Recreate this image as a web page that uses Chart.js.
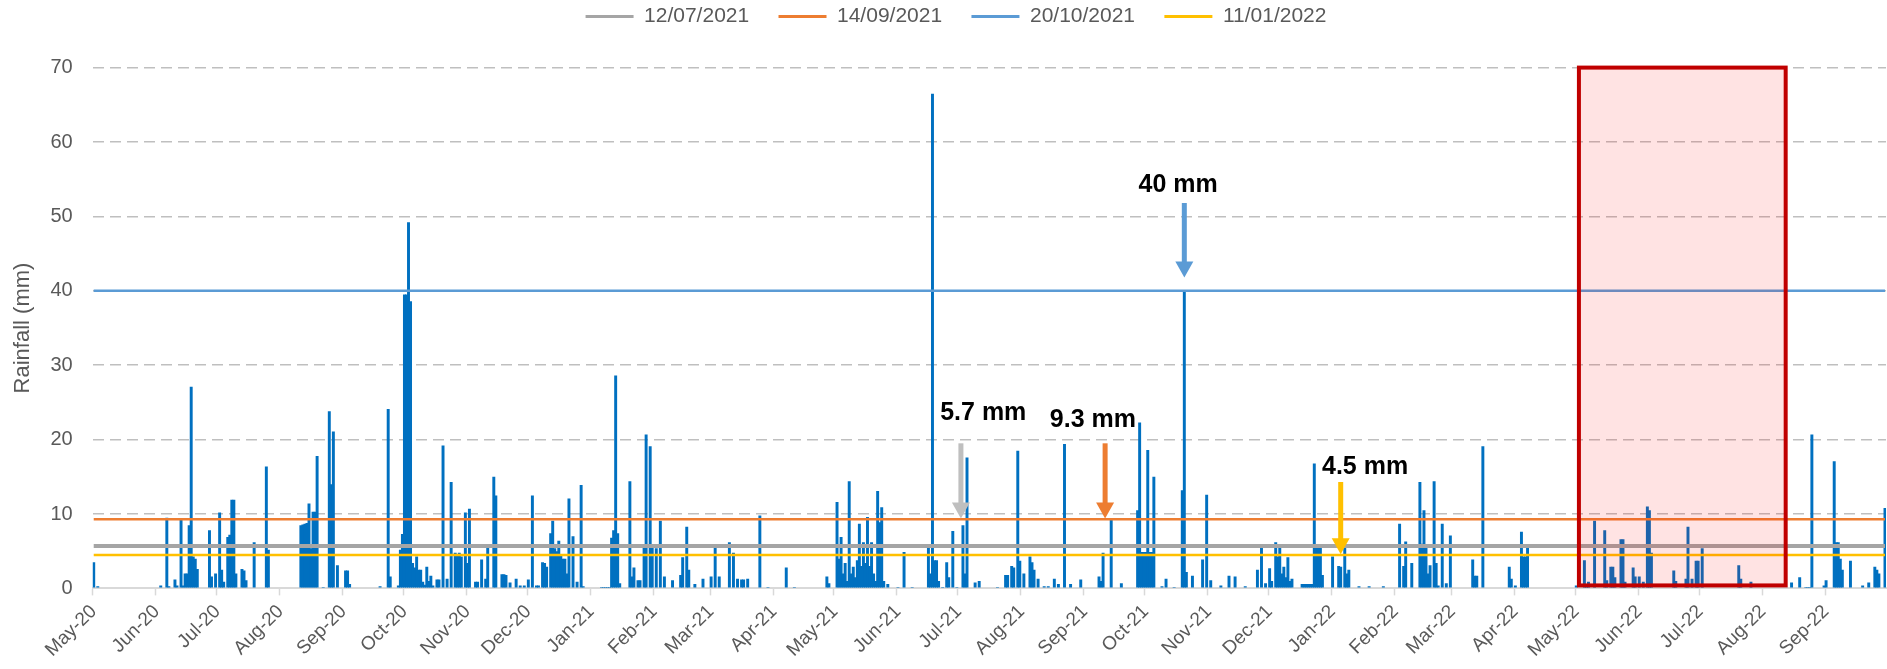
<!DOCTYPE html>
<html>
<head>
<meta charset="utf-8">
<title>Daily rainfall</title>
<script src="https://cdn.jsdelivr.net/npm/chart.js@4/dist/chart.umd.min.js"></script>
<style>
  html, body { margin: 0; padding: 0; background: #fff; }
  canvas { display: block; }
</style>
</head>
<body>
<canvas id="rainChart" width="1887" height="669"></canvas>
<script>
// Daily rainfall (mm) from 1 May 2020, one row per month
const rain2020 = [
  3.5,0,0.3,0,0,0,0,0,0,0,0,0,0,0,0,0,0,0,0,0,0,0,0,0,0,0,0,0,0,0,0,
  0,0,0.4,0,0,9.5,0.3,0,0,1.2,0.4,0,9.2,0.4,2.0,2.0,8.5,27.1,4.3,4.0,2.6,0,0,0,0,0,7.8,1.6,0,2.0,
  0,10.2,2.5,0.9,0,6.9,7.2,11.9,11.9,2.0,0,0,2.6,2.4,1.1,0,0,0,6.2,0,0,0,0,0,16.4,5.2,0,0,0,0,0,
  0,0,0,0,0,0,0,0,0,0,8.5,8.6,8.7,8.8,11.4,5.4,10.3,10.3,17.8,0,0,0.2,0,0,23.8,14.0,21.1,0,3.1,0,0,
  0,2.4,2.4,0.6,0,0,0,0,0,0,0,0,0,0,0,0,0,0,0.3,0,0,0,24.1,1.6,0,0,0,0.4,5.2,7.3,
  39.5,39.5,49.2,38.6,3.4,2.8,4.3,2.5,2.5,0.9,0.5,2.9,1.0,1.7,0.4,0,1.2,1.2,0,19.2,0,1.3,0,14.3,0,4.8,4.6,4.8,4.3,0,10.2,
  3.4,10.7,0,0,0.9,0.9,0,3.9,0,1.3,5.6,0,0,15.0,12.5,0,0,1.9,1.9,1.8,0,0.8,0,0,1.3,0,0.4,0,0.4,0,
  1.2,0,12.5,0,0.4,0.4,0,3.5,3.4,2.9,0,7.4,9.1,5.4,5.0,6.4,4.6,4.0,4.0,2.0,12.1,0,7.0,0,0.9,0,13.9,0.3,0,0,0
];
const rain2021 = [
  0,0,0,0,0,0.2,0.2,0.2,0.2,0.2,6.8,7.8,28.6,7.4,0.7,0,0,0,0,14.4,1.6,2.8,0,1.1,1.1,0,5.6,20.7,0,19.1,5.6,
  0,5.4,0,9.1,0,1.6,0,0,0,1.1,0,0,0,1.8,4.2,0,8.3,2.5,0,0,0.6,0,0,0,1.3,0,0,0,
  1.6,0,5.5,0,1.6,0,0,0,0,6.2,0,4.8,0,1.3,0,1.2,1.2,0,1.3,0,0,0,0,0,9.8,0,0,0,0.2,0,0,
  0,0,0,0,0,0,2.8,0,0,0,0.2,0,0,0,0,0,0,0,0,0,0,0,0,0,0,0,1.6,0.7,0,0,
  0,11.6,4.0,6.9,2.0,3.4,1.0,14.4,2.0,2.9,1.5,3.8,8.7,3.0,6.2,3.4,9.6,3.0,6.2,2.0,1.0,13.1,8.9,10.9,1.0,0,0.6,0,0,0,0,
  0.2,0,0,4.9,0,0,0,0.2,0,0,0,0,0,0,0,5.6,2.0,66.5,3.8,3.8,1.0,0,0.2,0,3.5,1.5,0,7.7,0,0.2,
  0,0,8.5,2.0,17.6,0,0,0,0.8,0,1.0,0,0,0,0,0,0,0,0,0.2,0,0,0,1.8,1.8,0,3.0,2.8,0,18.5,3.7,
  0,2.0,0,0,4.3,3.5,2.5,0,1.3,0,0,0.3,0,0.3,0,0,1.3,0,0.6,0,0,19.4,0,0,0.6,0,0,0,0,1.2,0,
  0,0,0,0,0,0,0,1.6,1.0,4.8,0,0,0,9.3,0,0,0,0,0.7,0,0,0,0,0,0,0,10.5,22.3,4.9,4.9,
  4.9,18.6,4.9,4.9,15.0,0,0,0,0.3,0,1.3,0,0,0,0.2,0,0,0,13.2,40,2.2,0,0,1.7,0,0,0,0,3.9,0,12.6,
  0,1.1,0,0,0,0,0.4,0,0,0,1.7,0,0,1.6,0,0,0,0,0.3,0,0,0,0,0,2.5,0,5.6,0,0.7,0,
  2.7,1.0,0,6.2,4.3,5.6,2.0,2.9,1.5,4.2,1.0,1.3,0,0,0,0,0.6,0.6,0.6,0.6,0.6,0.6,16.8,5.6,5.6,5.6,1.8,0,0,0,0
];
const rain2022 = [
  4.3,0,0,3.0,2.9,0,5.6,2.0,2.5,0,0,0,0,0.3,0,0,0,0,0.3,0,0,0,0,0,0,0.3,0,0,0,0,0,
  0,0,8.7,0,3.0,6.3,0,0,3.4,0,0,0,14.3,6.0,10.5,5.6,2.0,3.1,0,14.4,3.4,0.4,0,8.7,0,0.7,0,7.1,
  0,0,0,0,0,0,0,0,0,0,3.9,1.7,1.7,0,0,19.1,0,0,0,0,0,0,0,0,0,0,0,0,2.9,1.3,0,
  0.4,0,0,7.6,4.3,4.3,5.5,0,0,0,0,0,0,0,0,0,0,0,0,0,0,0,0,0,0,0,0,0,0,0,
  0.4,0,0,0,3.8,0.5,0.9,0,0,9.1,0,0,0,0,7.8,1.1,0,2.9,2.9,1.5,0,0,6.6,6.6,0.9,0,0,0,2.8,1.6,0,
  1.6,0,0.9,0,11.0,10.5,4.8,0,0,0,0,0,0,0,0,0,0,2.4,1.0,0,0,0,0,1.3,8.3,0,1.3,0,3.7,3.7,
  0,5.4,0,0,0,0,0,0,0,0,0,0,0,0,0,0,0,0,0,3.1,1.3,0,0,0,0,0.9,0,0,0,0,0,
  0,0,0,0,0,0,0,0,0,0,0,0,0,0,0.8,0,0,0,1.5,0,0,0.2,0.2,0.2,20.7,0,0,0,0,0,0.4,
  1.1,0,0,0,17.1,6.2,6.2,4.0,2.5,0,0,0,3.7,0,0,0,0,0,0.4,0,0,0.8,0,0,2.9,2.5,2.0,0,0,10.8
];

// Rainfall of the four events, shown as horizontal reference lines
const eventDates = ['12/07/2021', '14/09/2021', '20/10/2021', '11/01/2022'];
const eventRain = [5.7, 9.3, 40, 4.5];

const yTicks = [0, 10, 20, 30, 40, 50, 60, 70];
const monthNames = ['Jan', 'Feb', 'Mar', 'Apr', 'May', 'Jun', 'Jul', 'Aug', 'Sep', 'Oct', 'Nov', 'Dec'];

const eventColors = ['#A5A5A5', '#ED7D31', '#5B9BD5', '#FFC000'];
const eventWidths = [4, 2.5, 2.5, 2.5];

// call-outs (x in day index, y in mm)
const callouts = [
  { text: '5.7 mm', color: '#BFBFBF', x: 427, from: 19.5, to: 9.4, textX: 438, textY: 23.5 },
  { text: '9.3 mm', color: '#ED7D31', x: 498, from: 19.5, to: 9.4, textX: 492, textY: 22.6 },
  { text: '40 mm', color: '#5B9BD5', x: 537, from: 51.8, to: 41.8, textX: 534, textY: 54.2 },
  { text: '4.5 mm', color: '#FFC000', x: 614, from: 14.3, to: 4.6, textX: 626, textY: 16.3 }
];
// shaded window May-Aug 2022
const windowBox = { from: 731.3, to: 833.1, low: 0.4, high: 70 };

const rainfall = rain2020.concat(rain2021, rain2022);
const days = rainfall.map((_, i) => new Date(Date.UTC(2020, 4, 1 + i)).toISOString().slice(0, 10));
const isMonthStart = i => i === days.length || (days[i] !== undefined && days[i].endsWith('-01'));

const FONT = '"Liberation Sans", Arial, sans-serif';
const GREY_TEXT = '#595959';

// extra room under the legend, and nudge it a little to the right
const legendSpacing = {
  id: 'legendSpacing',
  afterInit(chart) {
    const legend = chart.legend;
    const fit = legend.fit;
    legend.fit = function () {
      fit.call(this);
      this.height += 30.6;
    };
  },
  afterLayout(chart) {
    chart.legend.left += 13;
    chart.legend.right += 13;
  }
};

const overlay = {
  id: 'overlay',
  afterDatasetsDraw(chart) {
    const { ctx, scales: { x, y } } = chart;
    ctx.save();

    const left = x.getPixelForValue(windowBox.from);
    const right = x.getPixelForValue(windowBox.to);
    const top = y.getPixelForValue(windowBox.high);
    const bottom = y.getPixelForValue(windowBox.low);
    ctx.fillStyle = 'rgba(255, 0, 0, 0.11)';
    ctx.fillRect(left, top, right - left, bottom - top);
    ctx.strokeStyle = '#C00000';
    ctx.lineWidth = 4;
    ctx.strokeRect(left, top, right - left, bottom - top);

    ctx.font = 'bold 25px ' + FONT;
    ctx.textAlign = 'center';
    ctx.textBaseline = 'middle';
    callouts.forEach(c => {
      const px = x.getPixelForValue(c.x);
      const y0 = y.getPixelForValue(c.from);
      const y1 = y.getPixelForValue(c.to);
      const head = 16;
      ctx.fillStyle = c.color;
      ctx.fillRect(px - 2.5, y0, 5, y1 - y0 - head + 1);
      ctx.beginPath();
      ctx.moveTo(px - 9, y1 - head);
      ctx.lineTo(px + 9, y1 - head);
      ctx.lineTo(px, y1);
      ctx.closePath();
      ctx.fill();
      ctx.fillStyle = '#000';
      ctx.fillText(c.text, x.getPixelForValue(c.textX), y.getPixelForValue(c.textY));
    });
    ctx.restore();
  }
};

const lineSets = eventDates.map((label, i) => ({
  type: 'line',
  label,
  data: [{ x: days[0], y: eventRain[i] }, { x: days[days.length - 1], y: eventRain[i] }],
  borderColor: eventColors[i],
  backgroundColor: eventColors[i],
  borderWidth: eventWidths[i],
  pointRadius: 0,
  order: 0
}));

new Chart(document.getElementById('rainChart'), {
  type: 'bar',
  data: {
    labels: days,
    datasets: [
      ...lineSets,
      {
        type: 'bar',
        label: 'Rainfall',
        data: rainfall,
        backgroundColor: '#0070C0',
        barPercentage: 1.45,
        categoryPercentage: 1,
        order: 1
      }
    ]
  },
  options: {
    responsive: false,
    animation: false,
    layout: { padding: { top: 0, right: 1, left: 0, bottom: 0 } },
    plugins: {
      tooltip: { enabled: false },
      legend: {
        position: 'top',
        labels: {
          font: { family: FONT, size: 21 },
          color: GREY_TEXT,
          boxWidth: 48,
          boxHeight: 3,
          padding: 6,
          generateLabels: chart => chart.data.datasets.slice(0, eventDates.length).map((ds, i) => ({
            text: i < eventDates.length - 1 ? ds.label + '    ' : ds.label,
            fillStyle: ds.borderColor,
            strokeStyle: ds.borderColor,
            lineWidth: 0,
            fontColor: GREY_TEXT,
            datasetIndex: i,
            hidden: false
          }))
        }
      }
    },
    scales: {
      x: {
        offset: true,
        afterFit: axis => {
          axis.paddingRight = 0;
          axis.height = 80.6;
        },
        grid: {
          offset: true,
          drawOnChartArea: false,
          drawTicks: true,
          tickLength: 7,
          tickWidth: 1.5,
          tickColor: ctx => isMonthStart(ctx.index) ? '#D9D9D9' : 'transparent'
        },
        border: { display: true, color: '#D9D9D9', width: 2 },
        ticks: {
          autoSkip: false,
          minRotation: 45,
          maxRotation: 45,
          padding: 5,
          color: GREY_TEXT,
          font: { family: FONT, size: 19 },
          callback: value => {
            const d = days[value];
            if (!d.endsWith('-01')) return '';
            return monthNames[+d.slice(5, 7) - 1] + '-' + d.slice(2, 4);
          }
        }
      },
      y: {
        min: 0,
        max: 70,
        afterBuildTicks: axis => { axis.ticks = yTicks.map(v => ({ value: v })); },
        afterFit: axis => { axis.width = 92.7; },
        grid: {
          drawTicks: false,
          color: ctx => ctx.tick && ctx.tick.value === 0 ? '#D9D9D9' : '#BFBFBF',
          lineWidth: ctx => ctx.tick && ctx.tick.value === 0 ? 2 : 1.5
        },
        border: {
          display: false,
          dash: ctx => ctx.tick && ctx.tick.value === 0 ? [] : [11, 6]
        },
        ticks: {
          padding: 20,
          color: GREY_TEXT,
          font: { family: FONT, size: 20 }
        },
        title: {
          display: true,
          text: 'Rainfall (mm)',
          color: GREY_TEXT,
          font: { family: FONT, size: 22 },
          padding: { top: 10, bottom: 0 }
        }
      }
    }
  },
  plugins: [legendSpacing, overlay]
});
</script>
</body>
</html>
